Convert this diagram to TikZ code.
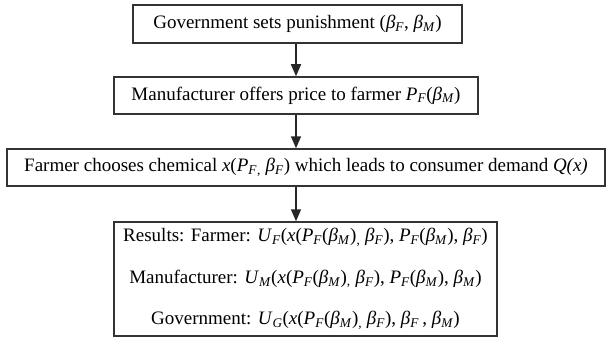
\documentclass[tikz,border=0pt]{standalone}
\usepackage{fontspec}
\setmainfont{Liberation Serif}
\usetikzlibrary{arrows.meta}
\newcommand\sbi[1]{\textsubscript{\textit{#1}}}
\newcommand\bet[1]{\textit{β}\sbi{#1}}
\newcommand\PF{\textit{P}\sbi{F}}
\newcommand\cm{\textsubscript{,}}
\begin{document}
\begin{tikzpicture}[x=1pt,y=-1pt,
  stagebox/.style={draw=black!80,line width=1.5pt,inner sep=0pt,anchor=center,
    font=\fontsize{19}{34}\selectfont,align=center},
  arr/.style={draw=black!85,line width=1.5pt,-{Triangle[length=12pt,width=10pt]}}]
\useasboundingbox (0,0) rectangle (609,342);
\node[stagebox,minimum width=329pt,minimum height=38pt] (b1) at (297.5,24)
  {Government sets punishment (\bet{F}, \bet{M})};
\node[stagebox,minimum width=364pt,minimum height=37pt] (b2) at (296,95.5)
  {Manufacturer offers price to farmer \PF(\bet{M})};
\node[stagebox,minimum width=598pt,minimum height=37pt] (b3) at (306,167.5)
  {Farmer chooses chemical \textit{x}(\PF\cm\ \bet{F}) which leads to consumer demand \textit{Q(x)}};
\node[stagebox,minimum width=383pt,minimum height=114pt,
  font=\fontsize{19}{41.5}\selectfont] (b4) at (305.5,279)
  {Results: Farmer: \textit{U}\sbi{F}(\textit{x}(\PF(\bet{M})\cm\ \bet{F}), \PF(\bet{M}), \bet{F})\\
   Manufacturer: \textit{U}\sbi{M}(\textit{x}(\PF(\bet{M})\cm\ \bet{F}), \PF(\bet{M}), \bet{M})\\
   Government: \textit{U}\sbi{G}(\textit{x}(\PF(\bet{M})\cm\ \bet{F}), \bet{F}\,, \bet{M})};
\draw[arr] (b2.north |- b1.south) -- (b2.north);
\draw[arr] (b2.south) -- (b2.south |- b3.north);
\draw[arr] (b2.south |- b3.south) -- (b2.south |- b4.north);
\end{tikzpicture}
\end{document}
